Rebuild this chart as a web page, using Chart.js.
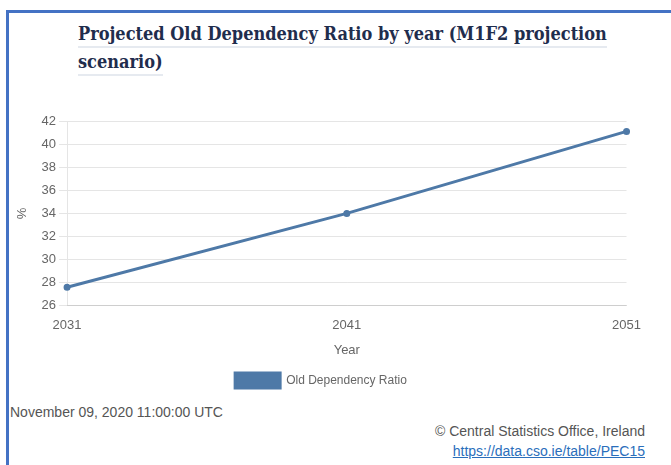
<!DOCTYPE html>
<html>
<head>
<meta charset="utf-8">
<script src="https://cdn.jsdelivr.net/npm/chart.js@4"></script>
<style>
  html, body { margin: 0; padding: 0; background: #fff; width: 671px; height: 465px; overflow: hidden; }
  #frame { position: absolute; left: 6px; top: 10px; width: 700px; height: 470px;
    border-left: 3px solid #4472c4; border-top: 3px solid #4472c4; }
  #title { position: absolute; left: 78px; top: 20px; width: 540px; margin: 0;
    font-family: "DejaVu Serif Condensed", "DejaVu Serif", serif; font-weight: bold; font-size: 18px;
    line-height: 28px; color: #1f2d4d; }
  #title span { border-bottom: 2px solid #e6eaf0; padding-bottom: 2px; }
  #wrap { position: absolute; left: 15px; top: 106px; width: 630px; height: 292px; }
  .foot { position: absolute; font-family: "Liberation Sans", Arial, sans-serif; font-size: 14px; color: #555; }
  #date { left: 10px; top: 404px; }
  #src { right: 26px; top: 423px; }
  #link { right: 26px; top: 443px; color: #2a6ebb; text-decoration: underline; }
</style>
</head>
<body>
<div id="frame"></div>
<h1 id="title"><span>Projected Old Dependency Ratio by year (M1F2 projection</span><br><span>scenario)</span></h1>
<div id="wrap"><canvas id="chart"></canvas></div>
<div class="foot" id="date">November 09, 2020 11:00:00 UTC</div>
<div class="foot" id="src">© Central Statistics Office, Ireland</div>
<div class="foot" id="link">https://data.cso.ie/table/PEC15</div>
<script>
const years = ['2031', '2041', '2051'];
const oldDependency = [27.6, 34.0, 41.1];
const seriesLabel = 'Old Dependency Ratio';
const lineColor = '#4e79a7';

Chart.defaults.font.family = '"Liberation Sans", Arial, sans-serif';
Chart.defaults.font.size = 13;
Chart.defaults.color = '#666';

new Chart(document.getElementById('chart'), {
  type: 'line',
  data: {
    labels: years,
    datasets: [
      { label: seriesLabel, data: oldDependency, borderColor: lineColor, backgroundColor: lineColor,
        borderWidth: 3, pointRadius: 2, pointBackgroundColor: lineColor, fill: false, tension: 0 },
    ],
  },
  options: {
    responsive: true,
    maintainAspectRatio: false,
    animation: false,
    layout: { padding: { left: 0, right: 18, top: 15, bottom: 0 } },
    scales: {
      x: { title: { display: true, text: 'Year', padding: { top: 5, bottom: 6 } },
        grid: { display: false }, ticks: { padding: 4 } },
      y: { min: 26, max: 42, title: { display: true, text: '%', padding: { top: 0, bottom: 8 } },
        grid: { color: 'rgba(0,0,0,0.1)' }, border: { color: 'rgba(0,0,0,0.1)' },
        ticks: { stepSize: 2 } },
    },
    plugins: {
      legend: { position: 'bottom', labels: { boxWidth: 45, boxHeight: 15, padding: 9, font: { size: 12 } } },
      tooltip: { enabled: false },
    },
  },
});
</script>
</body>
</html>
